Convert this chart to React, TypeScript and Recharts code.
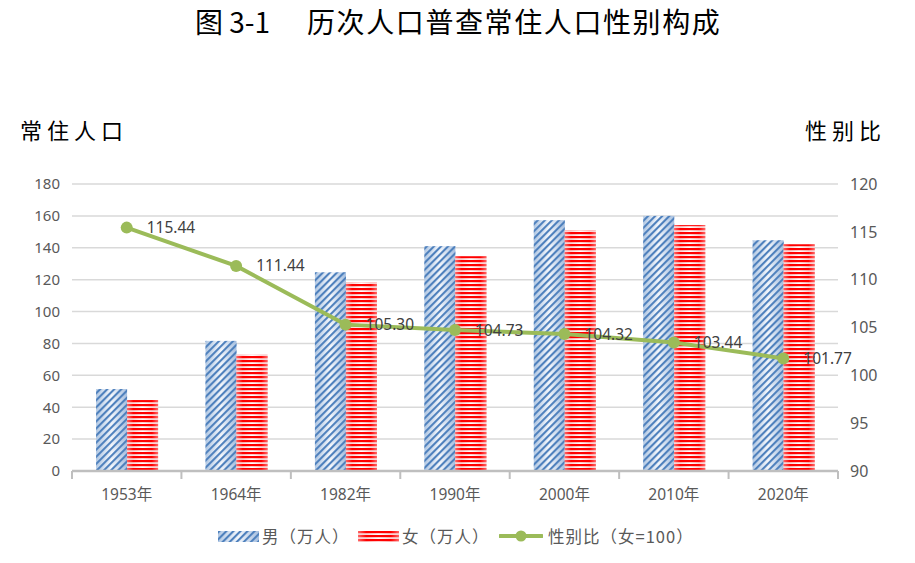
import { Bar, CartesianGrid, ComposedChart, LabelList, Line, XAxis, YAxis } from 'recharts';

const years = ['1953年', '1964年', '1982年', '1990年', '2000年', '2010年', '2020年'];
const male = [51.4, 81.6, 124.6, 141.0, 157.3, 160.0, 144.7];
const female = [44.5, 73.0, 118.3, 134.7, 151.0, 154.2, 142.2];
const sexRatio = [115.44, 111.44, 105.3, 104.73, 104.32, 103.44, 101.77];
const leftTicks = [0, 20, 40, 60, 80, 100, 120, 140, 160, 180];
const rightTicks = [90, 95, 100, 105, 110, 115, 120];

const data = years.map((year, i) => ({
  year,
  male: male[i],
  female: female[i],
  ratio: sexRatio[i],
}));

const SANS = '"Noto Sans", "Noto Sans CJK SC", sans-serif';
const CJK = '"Noto Sans CJK SC", sans-serif';
const GREEN = '#9bbb59';
const GRAY_TEXT = '#595959';

const PatternDefs = ({ suffix = '' }: { suffix?: string }) => (
  <defs>
    <linearGradient id={`maleBg${suffix}`} x1="0" y1="0" x2="1" y2="0">
      <stop offset="0" stopColor="#b3c9e4" />
      <stop offset="0.5" stopColor="#f4f7fc" />
      <stop offset="1" stopColor="#a6bfdf" />
    </linearGradient>
    <pattern
      id={`maleStripe${suffix}`}
      width="5"
      height="5"
      patternUnits="userSpaceOnUse"
      patternTransform="rotate(45)"
    >
      <rect x="0" y="0" width="2.1" height="5" fill="#4f81bd" />
    </pattern>
    <linearGradient id={`femaleBg${suffix}`} x1="0" y1="0" x2="1" y2="0">
      <stop offset="0" stopColor="#f5bcbc" />
      <stop offset="0.5" stopColor="#ffffff" />
      <stop offset="1" stopColor="#f5bcbc" />
    </linearGradient>
    <pattern id={`femaleStripe${suffix}`} width="4" height="4" patternUnits="userSpaceOnUse">
      <rect x="0" y="0" width="4" height="2.2" fill="#ff0000" />
    </pattern>
    <linearGradient id={`femaleFade${suffix}`} x1="0" y1="0" x2="1" y2="0">
      <stop offset="0" stopColor="#ffffff" stopOpacity="0.4" />
      <stop offset="0.2" stopColor="#ffffff" stopOpacity="0" />
      <stop offset="0.8" stopColor="#ffffff" stopOpacity="0" />
      <stop offset="1" stopColor="#ffffff" stopOpacity="0.4" />
    </linearGradient>
  </defs>
);

const MaleShape = (props: any) => {
  const { x, y, width, height } = props;
  if (!height || height <= 0) return null;
  return (
    <g>
      <rect x={x} y={y} width={width} height={height} fill="url(#maleBg)" />
      <rect x={x} y={y} width={width} height={height} fill="url(#maleStripe)" />
    </g>
  );
};

const FemaleShape = (props: any) => {
  const { x, y, width, height } = props;
  if (!height || height <= 0) return null;
  return (
    <g>
      <rect x={x} y={y} width={width} height={height} fill="url(#femaleBg)" />
      <rect x={x} y={y} width={width} height={height} fill="url(#femaleStripe)" />
      <rect x={x} y={y} width={width} height={height} fill="url(#femaleFade)" />
    </g>
  );
};

const YearTick = (props: any) => {
  const { x, y, payload, index } = props;
  const half = payload && payload.offset ? payload.offset : 54.7;
  const axisY = y - 16;
  return (
    <g>
      <line x1={x - half} x2={x - half} y1={axisY} y2={axisY + 8} stroke="#bfbfbf" strokeWidth={2} />
      {index === years.length - 1 && (
        <line x1={x + half} x2={x + half} y1={axisY} y2={axisY + 8} stroke="#bfbfbf" strokeWidth={2} />
      )}
      <text x={x} y={y} dy={12.5} textAnchor="middle" fill={GRAY_TEXT} fontSize={15.5} fontFamily={SANS}>
        {payload.value}
      </text>
    </g>
  );
};

const RatioLabel = (props: any) => {
  const { x, y, value } = props;
  return (
    <text x={x + 20} y={y} dy={5.5} fill="#404040" fontSize={15.5} fontFamily={SANS}>
      {Number(value).toFixed(2)}
    </text>
  );
};

const legendText: React.CSSProperties = {
  position: 'absolute',
  top: 526,
  fontSize: 16.5,
  letterSpacing: 1,
  fontFamily: CJK,
  color: GRAY_TEXT,
  whiteSpace: 'nowrap',
  lineHeight: '20px',
};

export default function App() {
  return (
    <div
      style={{
        position: 'absolute',
        left: 0,
        top: 0,
        width: 915,
        height: 563,
        background: '#ffffff',
        overflow: 'hidden',
      }}
    >
      <div
        style={{
          position: 'absolute',
          left: 195,
          top: 2,
          fontSize: 28,
          fontFamily: CJK,
          color: '#000',
          whiteSpace: 'pre',
          lineHeight: '38px',
        }}
      >
        图 3-1
      </div>
      <div
        style={{
          position: 'absolute',
          left: 307,
          top: 2,
          fontSize: 28,
          fontFamily: CJK,
          color: '#000',
          whiteSpace: 'pre',
          lineHeight: '38px',
          letterSpacing: 1.6,
        }}
      >
        历次人口普查常住人口性别构成
      </div>
      <div
        style={{
          position: 'absolute',
          left: 20,
          top: 114,
          fontSize: 22,
          fontFamily: CJK,
          color: '#000',
          letterSpacing: 5,
          lineHeight: '30px',
          whiteSpace: 'nowrap',
        }}
      >
        常住人口
      </div>
      <div
        style={{
          position: 'absolute',
          left: 805,
          top: 114,
          fontSize: 22,
          fontFamily: CJK,
          color: '#000',
          letterSpacing: 5,
          lineHeight: '30px',
          whiteSpace: 'nowrap',
        }}
      >
        性别比
      </div>

      <div style={{ position: 'absolute', left: 0, top: 0 }}>
        <ComposedChart
          width={915}
          height={563}
          data={data}
          margin={{ top: 184, right: 0, bottom: 62, left: 0 }}
          barCategoryGap="22%"
          barGap={0}
        >
          <PatternDefs />
          <CartesianGrid yAxisId="left" vertical={false} stroke="#d9d9d9" strokeWidth={1.5} />
          <XAxis
            dataKey="year"
            height={30}
            tickLine={false}
            tickSize={6}
            tickMargin={10}
            axisLine={{ stroke: '#bfbfbf', strokeWidth: 2.5 }}
            tick={<YearTick />}
            interval={0}
          />
          <YAxis
            yAxisId="left"
            domain={[0, 180]}
            ticks={leftTicks}
            width={72}
            tickLine={false}
            axisLine={false}
            tickSize={6}
            tickMargin={6}
            interval={0}
            tick={{ fill: GRAY_TEXT, fontSize: 15, fontFamily: SANS }}
          />
          <YAxis
            yAxisId="right"
            orientation="right"
            domain={[90, 120]}
            ticks={rightTicks}
            width={77}
            tickLine={false}
            axisLine={false}
            tickSize={6}
            tickMargin={6}
            interval={0}
            tick={{ fill: GRAY_TEXT, fontSize: 16, fontFamily: SANS }}
          />
          <Bar yAxisId="left" dataKey="male" shape={<MaleShape />} isAnimationActive={false} />
          <Bar yAxisId="left" dataKey="female" shape={<FemaleShape />} isAnimationActive={false} />
          <Line
            yAxisId="right"
            dataKey="ratio"
            stroke={GREEN}
            strokeWidth={4}
            dot={{ r: 6, fill: GREEN, stroke: GREEN, strokeWidth: 0 }}
            activeDot={false}
            isAnimationActive={false}
          >
            <LabelList dataKey="ratio" content={<RatioLabel />} />
          </Line>
        </ComposedChart>
      </div>

      {/* legend */}
      <svg style={{ position: 'absolute', left: 218, top: 531 }} width={41} height={11}>
        <PatternDefs suffix="L" />
        <rect x={0} y={0} width={41} height={11} fill="url(#maleBgL)" />
        <rect x={0} y={0} width={41} height={11} fill="url(#maleStripeL)" />
      </svg>
      <div style={{ ...legendText, left: 262 }}>男（万人）</div>
      <svg style={{ position: 'absolute', left: 358, top: 531 }} width={41} height={11}>
        <PatternDefs suffix="F" />
        <rect x={0} y={0} width={41} height={11} fill="url(#femaleBgF)" />
        <rect x={0} y={0} width={41} height={11} fill="url(#femaleStripeF)" />
        <rect x={0} y={0} width={41} height={11} fill="url(#femaleFadeF)" />
      </svg>
      <div style={{ ...legendText, left: 402 }}>女（万人）</div>
      <svg style={{ position: 'absolute', left: 499, top: 528 }} width={44} height={16}>
        <line x1={1} x2={43} y1={8} y2={8} stroke={GREEN} strokeWidth={4} strokeLinecap="round" />
        <circle cx={22} cy={8} r={5.5} fill={GREEN} />
      </svg>
      <div style={{ ...legendText, left: 548 }}>性别比（女=100）</div>
    </div>
  );
}
